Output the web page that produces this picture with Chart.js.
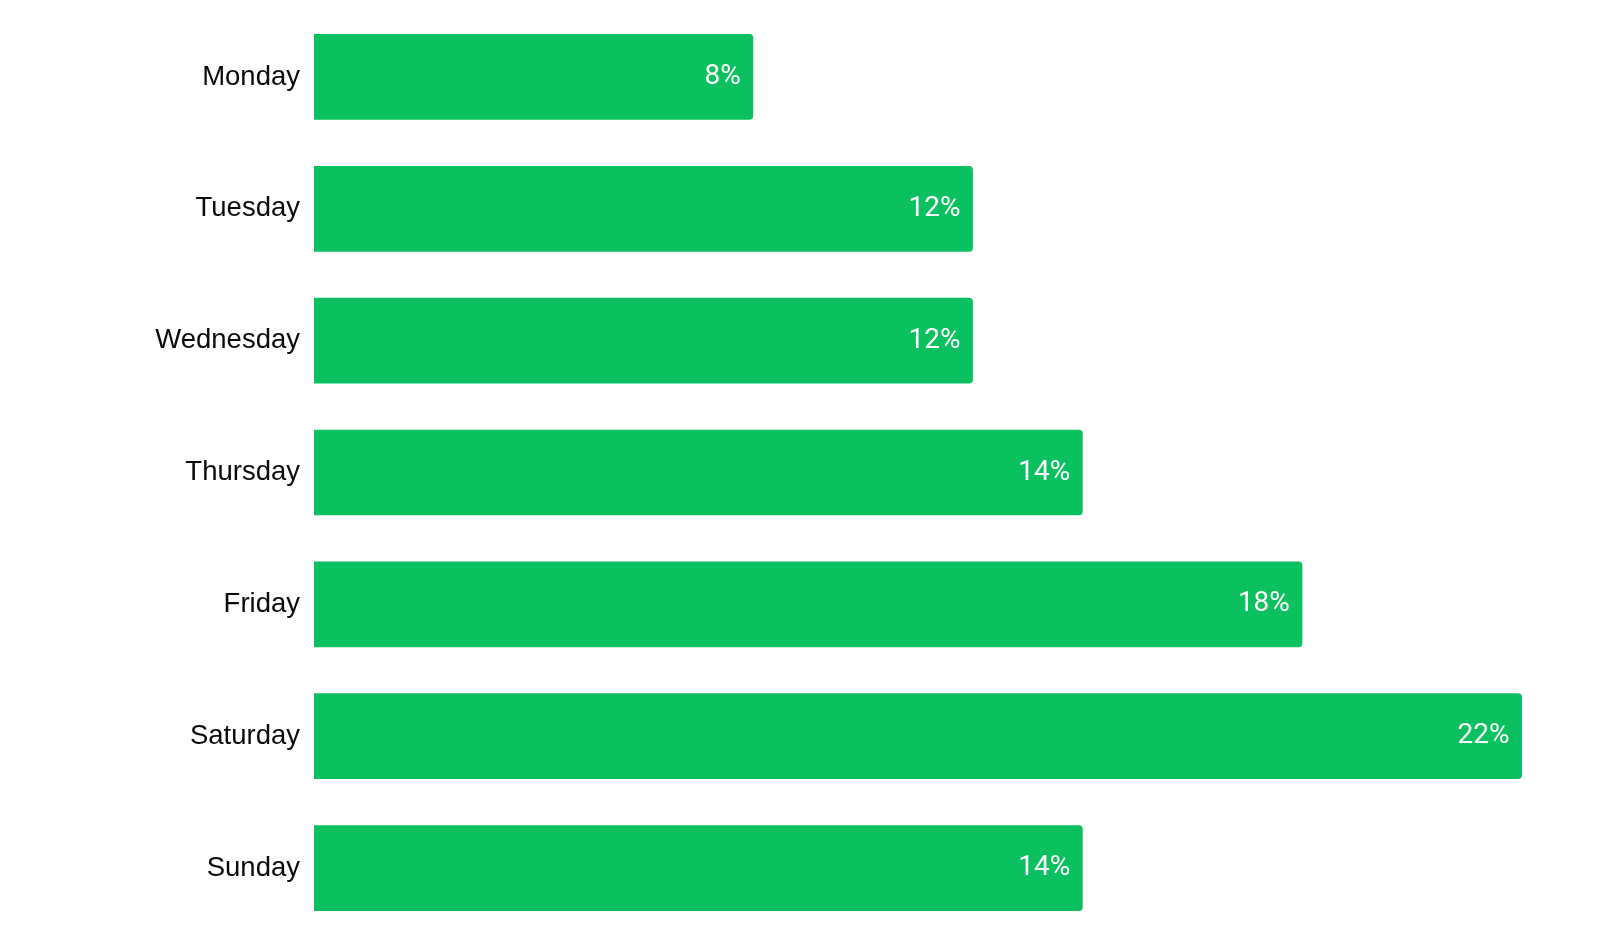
<!DOCTYPE html>
<html>
<head>
<meta charset="utf-8">
<script src="https://cdn.jsdelivr.net/npm/chart.js@4/dist/chart.umd.min.js"></script>
<style>
  html, body { margin: 0; padding: 0; background: #ffffff; }
  #wrap { width: 1619px; height: 950px; position: relative; }
</style>
</head>
<body>
<div id="wrap"><canvas id="c"></canvas></div>
<script>
const days = ['Monday', 'Tuesday', 'Wednesday', 'Thursday', 'Friday', 'Saturday', 'Sunday'];
const shares = [8, 12, 12, 14, 18, 22, 14];
const valueLabels = ['8%', '12%', '12%', '14%', '18%', '22%', '14%'];

const barLabelPlugin = {
  id: 'barLabels',
  afterDatasetsDraw(chart) {
    const ctx = chart.ctx;
    const meta = chart.getDatasetMeta(0);
    ctx.save();
    ctx.fillStyle = '#ffffff';
    ctx.font = '28px Roboto';
    ctx.textAlign = 'right';
    ctx.textBaseline = 'middle';
    meta.data.forEach((bar, i) => {
      ctx.fillText(valueLabels[i], bar.x - 12.5, bar.y);
    });
    ctx.restore();
  }
};

new Chart(document.getElementById('c'), {
  type: 'bar',
  data: {
    labels: days,
    datasets: [{
      data: shares,
      backgroundColor: '#0BC15F',
      borderWidth: 0,
      borderRadius: { topLeft: 0, bottomLeft: 0, topRight: 4, bottomRight: 4 },
      borderSkipped: false,
      categoryPercentage: 1,
      barPercentage: 0.65
    }]
  },
  options: {
    indexAxis: 'y',
    responsive: true,
    maintainAspectRatio: false,
    animation: false,
    layout: { padding: { top: 11, bottom: 16, left: 0, right: 97 } },
    plugins: { legend: { display: false }, tooltip: { enabled: false } },
    scales: {
      x: { display: false, min: 0, max: 22 },
      y: {
        grid: { display: false, drawTicks: false },
        border: { display: false },
        ticks: {
          color: '#0a0a0a',
          padding: 14,
          font: { family: '"Liberation Sans", Arial, sans-serif', size: 27.5 }
        },
        afterFit(scale) {
          scale.width = 314;
          scale.paddingTop = 0;
          scale.paddingBottom = 0;
        }
      }
    }
  },
  plugins: [barLabelPlugin]
});
</script>
</body>
</html>
